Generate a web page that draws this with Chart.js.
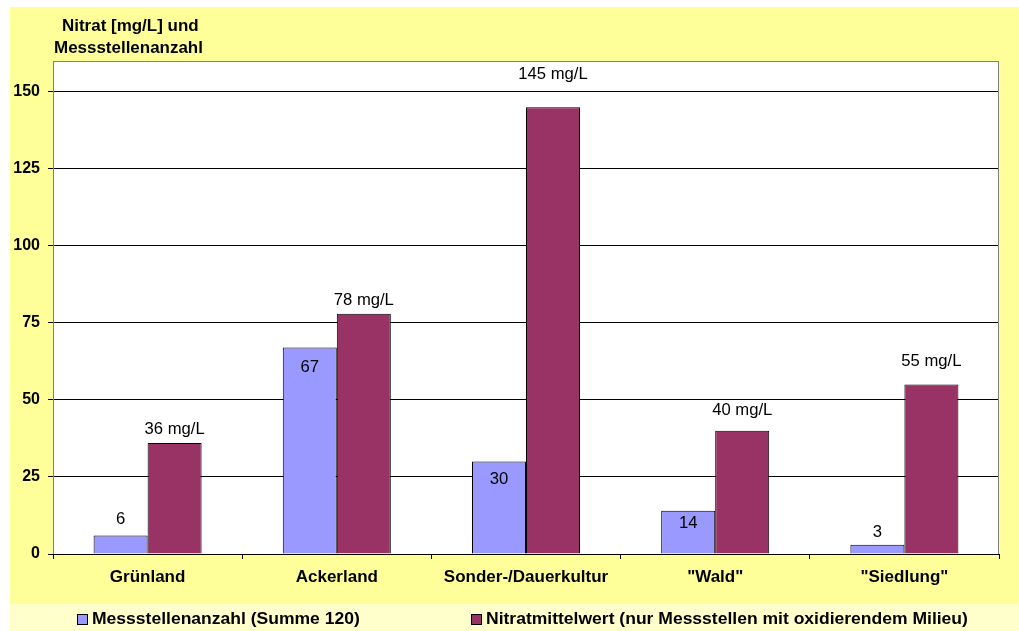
<!DOCTYPE html>
<html><head><meta charset="utf-8">
<script src="https://cdn.jsdelivr.net/npm/chart.js@4/dist/chart.umd.min.js"></script>
<style>html,body{margin:0;padding:0;background:#fff;overflow:hidden}</style>
</head><body>
<canvas id="c" width="1019" height="631" style="display:block;width:1019px;height:631px"></canvas>
<script>
const categories = ['Grünland', 'Ackerland', 'Sonder-/Dauerkultur', '"Wald"', '"Siedlung"'];
const messstellenanzahl = [6, 67, 30, 14, 3];
const nitratmittelwert = [36, 78, 145, 40, 55];
const seriesNames = ['Messstellenanzahl (Summe 120)', 'Nitratmittelwert (nur Messstellen mit oxidierendem Milieu)'];
const yTicks = [0, 25, 50, 75, 100, 125, 150];
const axisTitle = ['Nitrat [mg/L] und', 'Messstellenanzahl'];
const unitSuffix = ' mg/L';

// label placement (style only): vertical offset of label centre from bar top
const countLabelDy = [-16, 20, 18, 13, -12];
const nitratLabelDy = [-13, -13, -33, -20, -23];

const FONT = '"Liberation Sans", Arial, sans-serif';
const colBlue = '#9999FF', colRed = '#993366';

function stretchedText(ctx, text, x, y, sx, align) {
  ctx.save();
  ctx.translate(x, y);
  ctx.scale(sx, 1);
  ctx.textAlign = align || 'left';
  ctx.fillText(text, 0, 0);
  ctx.restore();
}

const bgPlugin = {
  id: 'bg',
  beforeDraw(chart) {
    const ctx = chart.ctx, a = chart.chartArea;
    ctx.save();
    ctx.fillStyle = '#ffffff';
    ctx.fillRect(0, 0, chart.width, chart.height);
    ctx.fillStyle = '#FFFF99';
    ctx.fillRect(10, 7, chart.width - 10, 597);
    ctx.fillStyle = '#FFFFCC';
    ctx.fillRect(10, 604, chart.width - 10, chart.height - 604);
    ctx.fillStyle = '#ffffff';
    ctx.fillRect(a.left, a.top, a.right - a.left, a.bottom - a.top);
    ctx.restore();
  },
  afterDraw(chart) {
    const ctx = chart.ctx, a = chart.chartArea;
    ctx.save();
    // plot border
    ctx.strokeStyle = '#808080';
    ctx.lineWidth = 1;
    ctx.strokeRect(Math.round(a.left) + 0.5, Math.round(a.top) + 0.5, Math.round(a.right - a.left) - 1, Math.round(a.bottom - a.top));
    ctx.strokeStyle = '#000';
    ctx.beginPath();
    ctx.moveTo(a.left, Math.round(a.bottom) + 0.5);
    ctx.lineTo(a.right, Math.round(a.bottom) + 0.5);
    ctx.stroke();

    // axis title
    ctx.fillStyle = '#000';
    ctx.font = 'bold 16px ' + FONT;
    ctx.textBaseline = 'alphabetic';
    stretchedText(ctx, axisTitle[0], 62, 31, 1.06);
    stretchedText(ctx, axisTitle[1], 54, 53, 1.06);

    // data labels
    ctx.font = '16px ' + FONT;
    ctx.textBaseline = 'middle';
    const m0 = chart.getDatasetMeta(0), m1 = chart.getDatasetMeta(1);
    m0.data.forEach((bar, i) => {
      stretchedText(ctx, String(messstellenanzahl[i]), bar.x, bar.y + countLabelDy[i], 1.04, 'center');
    });
    m1.data.forEach((bar, i) => {
      stretchedText(ctx, nitratmittelwert[i] + unitSuffix, bar.x, bar.y + nitratLabelDy[i], 1.04, 'center');
    });

    // legend
    const items = [
      {x: 77, label: chart.data.datasets[0].label, color: chart.data.datasets[0].backgroundColor},
      {x: 471, label: chart.data.datasets[1].label, color: chart.data.datasets[1].backgroundColor}
    ];
    ctx.font = 'bold 16px ' + FONT;
    ctx.textBaseline = 'middle';
    items.forEach(it => {
      ctx.fillStyle = it.color;
      ctx.fillRect(it.x, 614, 11, 11);
      ctx.strokeStyle = '#000';
      ctx.lineWidth = 1;
      ctx.strokeRect(it.x + 0.5, 614.5, 10, 10);
      ctx.fillStyle = '#000';
      stretchedText(ctx, it.label, it.x + 15, 620, 1.095);
    });
    ctx.restore();
  }
};

new Chart(document.getElementById('c'), {
  type: 'bar',
  data: {
    labels: categories,
    datasets: [
      {label: seriesNames[0], data: messstellenanzahl, backgroundColor: colBlue, borderColor: '#000', borderWidth: 1, borderSkipped: 'bottom'},
      {label: seriesNames[1], data: nitratmittelwert, backgroundColor: colRed, borderColor: '#000', borderWidth: 1, borderSkipped: 'bottom'}
    ]
  },
  options: {
    responsive: false,
    devicePixelRatio: 1,
    animation: false,
    events: [],
    layout: {padding: {left: 0, top: 61, right: 20, bottom: 0}},
    datasets: {bar: {categoryPercentage: 0.571, barPercentage: 1.0}},
    plugins: {legend: {display: false}, tooltip: {enabled: false}, title: {display: false}},
    scales: {
      x: {
        type: 'category',
        offset: true,
        afterFit(s) { s.height = 77; },
        grid: {offset: true, drawOnChartArea: false, tickLength: 5, color: '#000', lineWidth: 1},
        border: {display: true, color: '#000'},
        ticks: {color: '#000', font: {family: FONT, size: 17, weight: 'bold'}, padding: 8, maxRotation: 0, autoSkip: false}
      },
      y: {
        min: 0, max: 160,
        afterFit(s) { s.width = 53; },
        afterBuildTicks(s) { s.ticks = yTicks.map(v => ({value: v})); },
        grid: {color: '#000', lineWidth: 1, tickLength: 5, drawOnChartArea: true},
        border: {display: false},
        ticks: {color: '#000', font: {family: FONT, size: 16, weight: 'bold'}, padding: 8}
      }
    }
  },
  plugins: [bgPlugin]
});
</script>
</body></html>
